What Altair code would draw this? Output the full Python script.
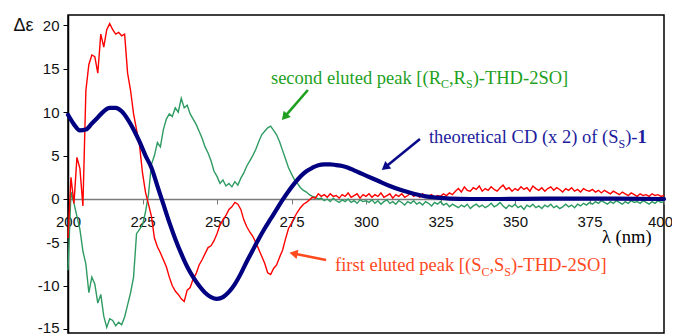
import math
import altair as alt
import pandas as pd

# ---------------- data ----------------
lam_1nm = list(range(200, 401))

red_vals = [
    -4.5, 2.5, -0.5, 4.8, 3.5, -0.8, 12.5, 15.5, 16.6, 16.4,
    14.5, 19.0, 17.5, 19.5, 20.2, 19.5, 19.0, 19.2, 18.8, 19.0,
    14.5, 12.5, 9.8, 8.0, 6.2, 3.0, 0.8, -0.6, -2.0, -4.5,
    -5.5, -6.2, -7.0, -7.8, -9.0, -10.0, -10.6, -11.0, -11.5, -11.8,
    -10.5, -10.2, -9.2, -8.6, -7.6, -7.0, -6.3, -5.6, -5.4, -4.8,
    -4.0, -3.0, -2.4, -1.9, -1.2, -0.9, -0.4, -0.6, -1.2, -2.4,
    -3.2, -3.8, -4.3, -5.0, -5.8, -6.6, -7.4, -8.5, -8.7, -8.0,
    -7.6, -6.7, -5.9, -4.6, -3.4, -2.8, -2.1, -1.5, -1.0, -0.6,
    -0.4, -0.1, 0.2, 0.1, 0.6, 0.3, 0.5, 0.2, 0.6, 0.3,
    0.4, 0.1, 0.5, 0.3, 0.7, 0.2, 0.4, 0.6, 0.1, 0.5,
    0.3,
    0.6, 0.2, 0.5, 0.3, 0.7, 0.2, 0.4, 0.6, 0.1, 0.5,
    0.3, 0.6, 0.2, 0.4, 0.7, 0.3, 0.5, 0.2, 0.6, 0.4,
    0.3, 0.5, 0.2, 0.4, 0.3, 0.6, 0.4, 0.7, 0.5, 0.9,
    1.2, 0.8, 1.4, 1.0, 0.9, 1.3, 1.1, 1.5, 0.9, 1.2,
    1.0, 1.4, 1.1, 0.9, 1.3, 1.6, 1.1, 1.3, 0.9, 1.2,
    1.0, 1.4, 1.1, 1.3, 0.9, 1.5, 1.2, 1.0, 1.3, 0.9,
    1.2, 1.4, 1.0, 1.3, 1.1, 0.8, 1.2, 1.0, 1.3, 0.9,
    1.1, 0.8, 1.2, 1.0, 0.9, 1.1, 0.8, 1.0, 0.7, 1.0,
    0.8, 0.6, 0.9, 0.7, 0.5, 0.8, 0.6, 0.4, 0.7, 0.5,
    0.3, 0.6, 0.4, 0.5, 0.3, 0.6, 0.4, 0.5, 0.3, 0.4,
]

green_vals = [
    -8.2, 0.8, -0.5, -2.0, -3.5, -6.0, -7.5, -10.8, -9.0, -9.8,
    -12.0, -11.0, -13.5, -14.8, -13.8, -14.0, -14.6, -14.2, -14.5, -13.6,
    -12.2, -10.8, -9.0, -4.0, -3.5, -3.0, -1.5, 0.5, 4.0, 5.0,
    6.5, 6.0, 8.0, 9.2, 9.8, 9.5, 10.5, 10.0, 11.6, 10.5,
    10.8, 9.8, 9.2, 8.6, 7.8, 7.0, 6.0, 5.3, 4.4, 3.2,
    2.6, 1.8, 2.2, 1.5, 1.8, 1.4, 2.0, 1.6, 2.4, 3.0,
    3.8, 4.4, 5.0, 5.7, 6.6, 7.4, 7.8, 8.2, 8.4, 7.9,
    7.4, 6.6, 5.6, 4.6, 3.6, 2.9, 2.2, 1.8, 1.3, 1.0,
    0.8, 0.5, 0.3, 0.2, 0.0, 0.1, -0.2, 0.0, -0.3, 0.1,
    -0.2, -0.4, -0.1, -0.3, 0.0, -0.4, -0.2, -0.5, -0.1, -0.3,
    -0.2,
    -0.4, -0.1, -0.5, -0.2, -0.6, -0.3, -0.1, -0.5, -0.3, -0.6,
    -0.2, -0.4, -0.7, -0.3, -0.5, -0.2, -0.6, -0.4, -0.7, -0.3,
    -0.5, -0.8, -0.4, -0.6, -0.3, -0.7, -0.5, -0.9, -0.6, -0.8,
    -1.0, -0.7, -0.9, -0.6, -1.1, -0.8, -0.6, -0.9, -0.7, -1.0,
    -0.8, -0.5, -0.9, -0.7, -0.4, -0.8, -1.1, -0.7, -0.9, -0.6,
    -1.0, -0.8, -1.2, -0.7, -0.9, -0.6, -1.0, -0.8, -1.1, -0.7,
    -0.9, -0.6, -1.0, -0.8, -1.1, -0.9, -0.6, -0.9, -0.7, -1.0,
    -0.6, -0.8, -0.5, -0.7, -0.4, -0.6, -0.3, -0.5, -0.2, -0.4,
    -0.6, -0.3, -0.5, -0.2, -0.4, -0.6, -0.3, -0.5, -0.2, -0.4,
    -0.3, -0.5, -0.2, -0.4, -0.6, -0.3, -0.5, -0.2, -0.4, -0.3,
]

navy_lam = [200, 202, 204, 206, 208, 210, 212, 214, 216, 218,
            220, 222, 224, 226, 228, 230, 232, 234, 236, 238,
            240, 242, 244, 246, 248, 250, 252, 254, 256, 258,
            260, 262, 264, 266, 268, 270, 272, 274, 276, 278,
            280, 282, 284, 286, 288, 290, 292, 294, 296, 298,
            300, 304, 308, 312, 316, 320, 324, 328, 335, 345,
            360, 380, 400]
navy_vals = [9.7, 8.6, 7.9, 8.0, 8.7, 9.4, 10.1, 10.5, 10.5, 10.1,
             9.2, 8.0, 6.6, 5.0, 3.6, 1.5, -0.6, -2.7, -4.6, -6.3,
             -7.8, -9.0, -10.0, -10.8, -11.3, -11.5, -11.3, -10.7, -9.8, -8.6,
             -7.2, -5.9, -4.6, -3.4, -2.3, -1.2, -0.1, 0.9, 1.8, 2.6,
             3.2, 3.6, 3.9, 4.0, 4.0, 3.9, 3.8, 3.6, 3.3, 3.0,
             2.7, 2.1, 1.5, 1.0, 0.6, 0.3, 0.15, 0.05, 0.0, 0.0,
             0.05, 0.05, 0.0]

x_ticks = [200, 225, 250, 275, 300, 325, 350, 375, 400]
y_ticks = [-15, -10, -5, 0, 5, 10, 15, 20]

# annotations: anchor (lambda, delta-eps at baseline), colour, segments
GREEN_TXT, NAVY_TXT, RED_TXT = "#1E9F1E", "#1C1C9C", "#FF4A1E"
annotations = [
    (268.1, 13.25, GREEN_TXT, [("second eluted peak [(R", "main"), ("C", "sub"),
                               (",R", "main"), ("S", "sub"), (")-THD-2SO]", "main")]),
    (321.1, 6.45, NAVY_TXT, [("theoretical CD (x 2) of (S", "main"), ("S", "sub"),
                             (")-", "main"), ("1", "bold")]),
    (289.6, -8.30, RED_TXT, [("first eluted peak [(S", "main"), ("C", "sub"),
                             (",S", "main"), ("S", "sub"), (")-THD-2SO]", "main")]),
]
x_title = (379.2, -5.07, "λ (nm)")

# arrows: (from lambda, from value, tip lambda, tip value, colour)
arrows = [
    (280.5, 12.56, 272.1, 9.22, "#1E9F1E"),
    (318.1, 6.91, 305.7, 3.46, "#0A0A8A"),
    (286.6, -7.03, 274.8, -6.22, "#FF4A1E"),
]

# ---------------- geometry ----------------
X_DOMAIN = [200, 400]
Y_DOMAIN = [-15.44, 21.2]
W, H = 596, 318
PX_NM = W / (X_DOMAIN[1] - X_DOMAIN[0])
PX_UNIT = H / (Y_DOMAIN[1] - Y_DOMAIN[0])

MAIN_FS, SUB_FS = 18.5, 12
SUB_DROP = 4.5  # px
# Times / Liberation Serif advance widths (1/1000 em)
WID = {" ": 250, "(": 333, ")": 333, "[": 333, "]": 333, ",": 250, "-": 333,
       "0": 500, "1": 500, "2": 500, "C": 667, "D": 722, "H": 722, "O": 722,
       "R": 667, "S": 556, "T": 611, "a": 444, "c": 444, "d": 500, "e": 444,
       "f": 333, "h": 500, "i": 278, "k": 500, "l": 278, "n": 500, "o": 500,
       "p": 500, "r": 333, "s": 389, "t": 278, "u": 500, "x": 500}

rows_main, rows_bold = [], []
for lam0, val0, col, segs in annotations:
    cum = 0.0
    for txt, kind in segs:
        fs = SUB_FS if kind == "sub" else MAIN_FS
        v = val0 - (SUB_DROP / PX_UNIT if kind == "sub" else 0)
        row = {"lam": lam0 + cum / PX_NM, "val": v, "txt": txt, "col": col, "fs": fs}
        (rows_bold if kind == "bold" else rows_main).append(row)
        cum += sum(WID.get(ch, 500) for ch in txt) * fs / 1000.0
rows_main.append({"lam": x_title[0], "val": x_title[1], "txt": x_title[2],
                  "col": "#000000", "fs": MAIN_FS})

arrow_rows, head_rows = [], []
for l0, v0, l1, v1, col in arrows:
    dxp = (l1 - l0) * PX_NM
    dyp = -(v1 - v0) * PX_UNIT
    ang = math.degrees(math.atan2(dxp, -dyp)) % 360
    n = math.hypot(dxp, dyp)
    back = 4.0
    hl = l1 - dxp / n * back / PX_NM
    hv = v1 + dyp / n * back / PX_UNIT
    arrow_rows.append({"lam": l0, "val": v0, "lam2": hl, "val2": hv, "col": col})
    head_rows.append({"lam": hl, "val": hv, "col": col, "ang": ang})

# ---------------- chart ----------------
FONT_SANS = "Liberation Sans, Arial, sans-serif"
FONT_SERIF = "'Liberation Serif', 'Times New Roman', Times, serif"

x_axis = alt.Axis(values=x_ticks, offset=-(0 - Y_DOMAIN[0]) * PX_UNIT,
                  domainColor="#7a7a7a", domainWidth=1.5, tickColor="#7a7a7a",
                  tickSize=5, tickWidth=1, labelFont=FONT_SANS, labelFontSize=15,
                  labelColor="#111", labelPadding=11, grid=False, title=None,
                  labelFlush=False,
                  labelOffset={"condition": {"test": "datum.value == 400", "value": -4},
                               "value": 0})
y_axis = alt.Axis(values=y_ticks, domainColor="black", domainWidth=1.5,
                  tickColor="black", tickSize=5, labelFont=FONT_SANS,
                  labelFontSize=15, labelColor="#111", labelPadding=4, grid=False,
                  labelExpr="'' + datum.value",
                  labelOffset={"condition": {"test": "datum.value == -15", "value": -2},
                               "value": 0},
                  title="Δε", titleAngle=0, titleX=-45, titleY=10,
                  titleAlign="center", titleBaseline="middle", titleFont=FONT_SANS,
                  titleFontSize=18, titleFontWeight="normal", titleColor="#111")

X = alt.X("lam:Q", scale=alt.Scale(domain=X_DOMAIN, nice=False, zero=False), axis=x_axis)
Y = alt.Y("val:Q", scale=alt.Scale(domain=Y_DOMAIN, nice=False, zero=False), axis=y_axis)

df_red = pd.DataFrame({"lam": lam_1nm, "val": red_vals})
df_green = pd.DataFrame({"lam": lam_1nm, "val": green_vals})
df_navy = pd.DataFrame({"lam": navy_lam, "val": navy_vals})

green = alt.Chart(df_green).mark_line(color="#2E9B62", strokeWidth=1.4).encode(x=X, y=Y)
red = alt.Chart(df_red).mark_line(color="#FF0000", strokeWidth=1.4).encode(x=X, y=Y)
navy = alt.Chart(df_navy).mark_line(color="#000080", strokeWidth=4.2,
                                    interpolate="monotone", strokeCap="round").encode(x=X, y=Y)

txt_main = alt.Chart(pd.DataFrame(rows_main)).mark_text(
    font=FONT_SERIF, align="left", baseline="alphabetic").encode(
    x=X, y=Y, text="txt:N", color=alt.Color("col:N", scale=None),
    size=alt.Size("fs:Q", scale=None))
txt_bold = alt.Chart(pd.DataFrame(rows_bold)).mark_text(
    font=FONT_SERIF, align="left", baseline="alphabetic", fontWeight="bold").encode(
    x=X, y=Y, text="txt:N", color=alt.Color("col:N", scale=None),
    size=alt.Size("fs:Q", scale=None))

arr_lines = alt.Chart(pd.DataFrame(arrow_rows)).mark_rule(strokeWidth=2.6).encode(
    x=X, y=Y, x2="lam2:Q", y2="val2:Q", color=alt.Color("col:N", scale=None))
arr_heads = alt.Chart(pd.DataFrame(head_rows)).mark_point(
    shape="triangle", filled=True, size=90, opacity=1).encode(
    x=X, y=Y, color=alt.Color("col:N", scale=None), angle=alt.Angle("ang:Q", scale=None))

chart = alt.layer(green, red, navy, txt_main, txt_bold, arr_lines, arr_heads).properties(
    width=W, height=H,
    autosize=alt.AutoSizeParams(type="none"),
    padding={"left": 60, "top": 7, "right": 8, "bottom": 3},
    background="white",
).configure_view(stroke="black", strokeWidth=1.5)

chart.save("out.html", embed_options={"renderer": "svg", "actions": False})
